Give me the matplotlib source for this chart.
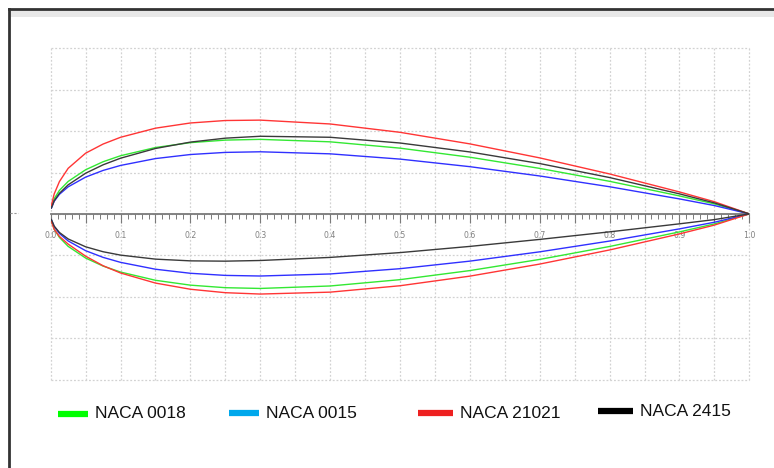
import matplotlib.pyplot as plt
from matplotlib.lines import Line2D

# chord stations (x/c) and surface ordinates (y/c) for each section
x_c = [0.001, 0.005, 0.0125, 0.025, 0.05, 0.075, 0.1, 0.15, 0.2, 0.25,
       0.3, 0.4, 0.5, 0.6, 0.7, 0.8, 0.9, 0.95, 1.0]

naca0018_upper = [0.0083, 0.01832, 0.02841, 0.03922, 0.05332, 0.06300, 0.07024, 0.08018,
                  0.08606, 0.08912, 0.09003, 0.08705, 0.07941, 0.06845, 0.05496,
                  0.03935, 0.02172, 0.01211, 0.0]
naca0018_lower = [-v for v in naca0018_upper]

naca0015_upper = [0.0070, 0.01527, 0.02367, 0.03268, 0.04443, 0.05250, 0.05853, 0.06682,
                  0.07172, 0.07427, 0.07502, 0.07254, 0.06618, 0.05704, 0.04580,
                  0.03279, 0.01810, 0.01009, 0.0]
naca0015_lower = [-v for v in naca0015_upper]

naca21021_upper = [0.0103, 0.02410, 0.03907, 0.05505, 0.07334, 0.08437, 0.09253, 0.10353,
                   0.10981, 0.11278, 0.11326, 0.10860, 0.09853, 0.08456, 0.06765,
                   0.04825, 0.02652, 0.01471, 0.0]
naca21021_lower = [-0.0091, -0.01864, -0.02721, -0.03647, -0.05108, -0.06263, -0.07137,
                   -0.08355, -0.09101, -0.09516, -0.09680, -0.09450, -0.08677,
                   -0.07516, -0.06059, -0.04355, -0.02417, -0.01353, 0.0]

naca2415_upper = [0.0071, 0.01577, 0.02490, 0.03510, 0.04912, 0.05930, 0.06728, 0.07901,
                  0.08672, 0.09146, 0.09377, 0.09254, 0.08562, 0.07482, 0.06080,
                  0.04390, 0.02421, 0.01328, 0.0]
naca2415_lower = [-0.0068, -0.01477, -0.02244, -0.03026, -0.03974, -0.04570, -0.04978,
                  -0.05463, -0.05672, -0.05708, -0.05627, -0.05254, -0.04674,
                  -0.03926, -0.03080, -0.02168, -0.01199, -0.00690, 0.0]

names = ["NACA 0018", "NACA 0015", "NACA 21021", "NACA 2415"]
x_ticks_major = [i * 0.05 for i in range(21)]
x_ticks_minor = [i * 0.01 for i in range(101)]
y_grid = [-0.2, -0.15, -0.1, -0.05, 0.0, 0.05, 0.1, 0.15, 0.2]

line_colors = ["#33e833", "#3030ff", "#ff3535", "#3a3a3a"]
legend_colors = ["#00ff00", "#00a8ec", "#ee2020", "#000000"]

W, H = 774, 468
fig = plt.figure(figsize=(W / 100, H / 100), dpi=100)
fig.patch.set_facecolor("white")


def fx(px):
    return px / W


def fy(py):
    return 1 - py / H


# window frame and header strip
fig.add_artist(plt.Rectangle((fx(9), fy(16.5)), 1, fy(10) - fy(16.5),
                             transform=fig.transFigure, color="#e8e8e8", lw=0))
fig.add_artist(Line2D([fx(8.5), fx(8.5)], [0, fy(8.5)], transform=fig.transFigure,
                      color="#333333", lw=2))
fig.add_artist(Line2D([fx(8.5), 1], [fy(8.5), fy(8.5)], transform=fig.transFigure,
                      color="#333333", lw=2))
fig.add_artist(Line2D([fx(10), fx(18)], [fy(213.5), fy(213.5)], transform=fig.transFigure,
                      color="#999999", lw=0.8, ls=(0, (2, 1.5))))

ax = fig.add_axes([fx(50.7), fy(379.5), fx(749.3) - fx(50.7), fy(48.3) - fy(379.5)])
ax.set_xlim(0, 1)
ax.set_ylim(-0.2, 0.2)
ax.set_facecolor("white")

for gx in x_ticks_major:
    ax.axvline(gx, color="#d2d2d2", lw=0.9, ls=(0, (1.5, 1.5)), zorder=0, clip_on=False)
for gy in y_grid:
    ax.axhline(gy, color="#d2d2d2", lw=0.9, ls=(0, (1.5, 1.5)), zorder=0, clip_on=False)

for s in ["left", "right", "top"]:
    ax.spines[s].set_visible(False)
ax.spines["bottom"].set_position(("data", 0))
ax.spines["bottom"].set_color("#7a7a7a")
ax.spines["bottom"].set_linewidth(1.3)
ax.spines["bottom"].set_zorder(1)

ax.set_yticks([])
ax.set_xticks(x_ticks_major)
ax.set_xticks(x_ticks_minor, minor=True)
ax.set_xticklabels([f"{v:.1f}" if i % 2 == 0 else "" for i, v in enumerate(x_ticks_major)])
ax.tick_params(axis="x", which="major", direction="out", length=6.5, width=0.8,
               color="#7a7a7a", labelsize=5.6, labelcolor="#808080", pad=5.5)
ax.tick_params(axis="x", which="minor", direction="out", length=3.6, width=0.7,
               color="#7a7a7a")

sections = [
    (naca0018_upper, naca0018_lower),
    (naca0015_upper, naca0015_lower),
    (naca21021_upper, naca21021_lower),
    (naca2415_upper, naca2415_lower),
]
for (up, lo), c in zip(sections, line_colors):
    ax.plot(x_c, up, color=c, lw=1.0, zorder=3)
    ax.plot(x_c, lo, color=c, lw=1.0, zorder=3)

# legend row beneath the plot
legend_bars = [(58, 88, 414), (229, 259, 413), (418, 453, 413), (598, 633, 411)]
for (x0, x1, yc), c, name in zip(legend_bars, legend_colors, names):
    fig.add_artist(Line2D([fx(x0), fx(x1)], [fy(yc), fy(yc)], transform=fig.transFigure,
                          color=c, lw=4.5, solid_capstyle="butt"))
    fig.text(fx(x1 + 7), fy(yc), name, ha="left", va="center", fontsize=12.5,
             family="Liberation Sans", color="#111111")

fig.savefig("out.png", dpi=100, facecolor="white")
